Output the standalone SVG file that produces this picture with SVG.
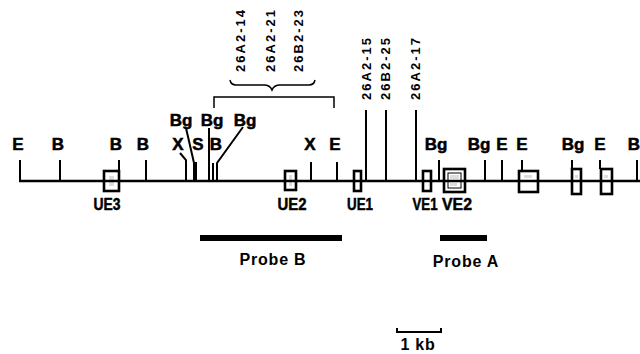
<svg xmlns="http://www.w3.org/2000/svg" width="640" height="354" viewBox="0 0 640 354">
<style>
.lbl{font-family:"Liberation Sans",Arial,sans-serif;font-weight:bold;font-size:17px;fill:#000;stroke:#000;stroke-width:0.5;text-anchor:middle}
.clone{font-family:"Liberation Sans",Arial,sans-serif;font-weight:bold;font-size:13px;fill:#000}
.probe{font-family:"Liberation Sans",Arial,sans-serif;font-weight:bold;font-size:16px;fill:#000;text-anchor:middle;letter-spacing:0.8px}
.ln{stroke:#000;stroke-width:2;fill:none}
.thin{stroke:#000;stroke-width:1.5;fill:none}
.box{stroke:#000;stroke-width:2.6;fill:#fff}
.inner{fill:#ddd}
</style>
<rect width="640" height="354" fill="#fff"/>

<!-- clone labels -->
<g id="clones-left">
<text class="clone" x="245" y="72" transform="rotate(-90 245 72)" textLength="62" lengthAdjust="spacing">26A2-14</text>
<text class="clone" x="275" y="72" transform="rotate(-90 275 72)" textLength="62" lengthAdjust="spacing">26A2-21</text>
<text class="clone" x="303" y="72" transform="rotate(-90 303 72)" textLength="62" lengthAdjust="spacing">26B2-23</text>
<path class="thin" d="M230,80 Q231,85 236,85 L264,85 Q270,85 272,90 Q274,85 280,85 L309,85 Q314,85 315,80"/>
<path class="thin" d="M214,108 L214,97 L334,97 L334,108"/>
</g>
<g id="clones-right">
<text class="clone" x="371" y="100" transform="rotate(-90 371 100)" textLength="62" lengthAdjust="spacing">26A2-15</text>
<text class="clone" x="390" y="100" transform="rotate(-90 390 100)" textLength="62" lengthAdjust="spacing">26B2-25</text>
<text class="clone" x="420" y="100" transform="rotate(-90 420 100)" textLength="62" lengthAdjust="spacing">26A2-17</text>
</g>

<!-- exon boxes -->
<g id="exons">
<g id="UE3"><rect class="box" x="104" y="171" width="15" height="20"/><rect class="inner" x="109" y="176" width="5" height="10"/></g>
<g id="UE2"><rect class="box" x="285" y="171" width="11" height="19"/><rect class="inner" x="289" y="175" width="3" height="11"/></g>
<g id="UE1"><rect class="box" x="354" y="171" width="7" height="20"/></g>
<g id="VE1"><rect class="box" x="423" y="171" width="8" height="20"/></g>
<g id="VE2"><rect class="box" x="444" y="169" width="21" height="23"/><rect x="448" y="173" width="13" height="15" fill="none" stroke="#000" stroke-width="1"/><rect class="inner" x="450" y="175" width="9" height="4"/><rect class="inner" x="450" y="183" width="7" height="3"/></g>
<g id="ex5"><rect class="box" x="519" y="171" width="19" height="21"/><rect class="inner" x="524" y="175" width="8" height="3"/></g>
<g id="ex6"><rect class="box" x="572" y="169" width="9" height="25"/><rect class="inner" x="575" y="175" width="3" height="3"/></g>
<g id="ex7"><rect class="box" x="601" y="169" width="11" height="25"/><rect class="inner" x="604" y="175" width="4" height="3"/></g>
</g>

<!-- main line and ticks -->
<g id="connectors">
<line x1="19" y1="181" x2="640" y2="181" stroke="#000" stroke-width="2.6"/>
<path class="ln" d="M20,160V181 M60,160V181 M119,160V171 M146,160V181"/>
<path class="ln" d="M180,153 L186,160 V181"/>
<path class="ln" d="M186,128 L194,163"/>
<rect x="193" y="162" width="4" height="19" fill="#000"/>
<path class="ln" d="M209,128V181 M213,163V181"/>
<path class="ln" d="M243,127 L217,163 V181"/>
<path class="ln" d="M311,162V181 M337,162V181"/>
<path class="ln" d="M366,110V181 M386,110V181 M416,110V181"/>
<path class="ln" d="M439,160V181 M485,160V181 M502,160V181 M522,160V171 M572,160V169 M600,160V169 M637,160V181"/>
</g>

<!-- site labels -->
<g id="sites">
<text class="lbl" x="18" y="150">E</text>
<text class="lbl" x="58" y="150">B</text>
<text class="lbl" x="116" y="150">B</text>
<text class="lbl" x="143" y="150">B</text>
<text class="lbl" x="178" y="150">X</text>
<text class="lbl" x="198" y="150">S</text>
<text class="lbl" x="216" y="150">B</text>
<text class="lbl" x="181" y="126">Bg</text>
<text class="lbl" x="212" y="126">Bg</text>
<text class="lbl" x="245" y="126">Bg</text>
<text class="lbl" x="310" y="150">X</text>
<text class="lbl" x="335" y="150">E</text>
<text class="lbl" x="436" y="150">Bg</text>
<text class="lbl" x="479" y="150">Bg</text>
<text class="lbl" x="502" y="150">E</text>
<text class="lbl" x="522" y="150">E</text>
<text class="lbl" x="573" y="150">Bg</text>
<text class="lbl" x="600" y="150">E</text>
<text class="lbl" x="640" y="150" style="text-anchor:end">B</text>
</g>

<!-- exon labels -->
<g id="exon-labels">
<text class="lbl" x="107" y="210" textLength="27" lengthAdjust="spacingAndGlyphs">UE3</text>
<text class="lbl" x="292" y="210" textLength="29" lengthAdjust="spacingAndGlyphs">UE2</text>
<text class="lbl" x="360" y="210" textLength="26" lengthAdjust="spacingAndGlyphs">UE1</text>
<text class="lbl" x="425" y="210" textLength="25" lengthAdjust="spacingAndGlyphs">VE1</text>
<text class="lbl" x="457" y="210" textLength="30" lengthAdjust="spacingAndGlyphs">VE2</text>
</g>

<!-- probes -->
<g id="probeB">
<rect x="200" y="235" width="142" height="6" fill="#000"/>
<text class="probe" x="273" y="265">Probe B</text>
</g>
<g id="probeA">
<rect x="440" y="235" width="47" height="6" fill="#000"/>
<text class="probe" x="466" y="267">Probe A</text>
</g>

<!-- scale -->
<g id="scale">
<path class="ln" d="M397,328 V332 H441 V328"/>
<text class="probe" x="418" y="350">1 kb</text>
</g>
</svg>
